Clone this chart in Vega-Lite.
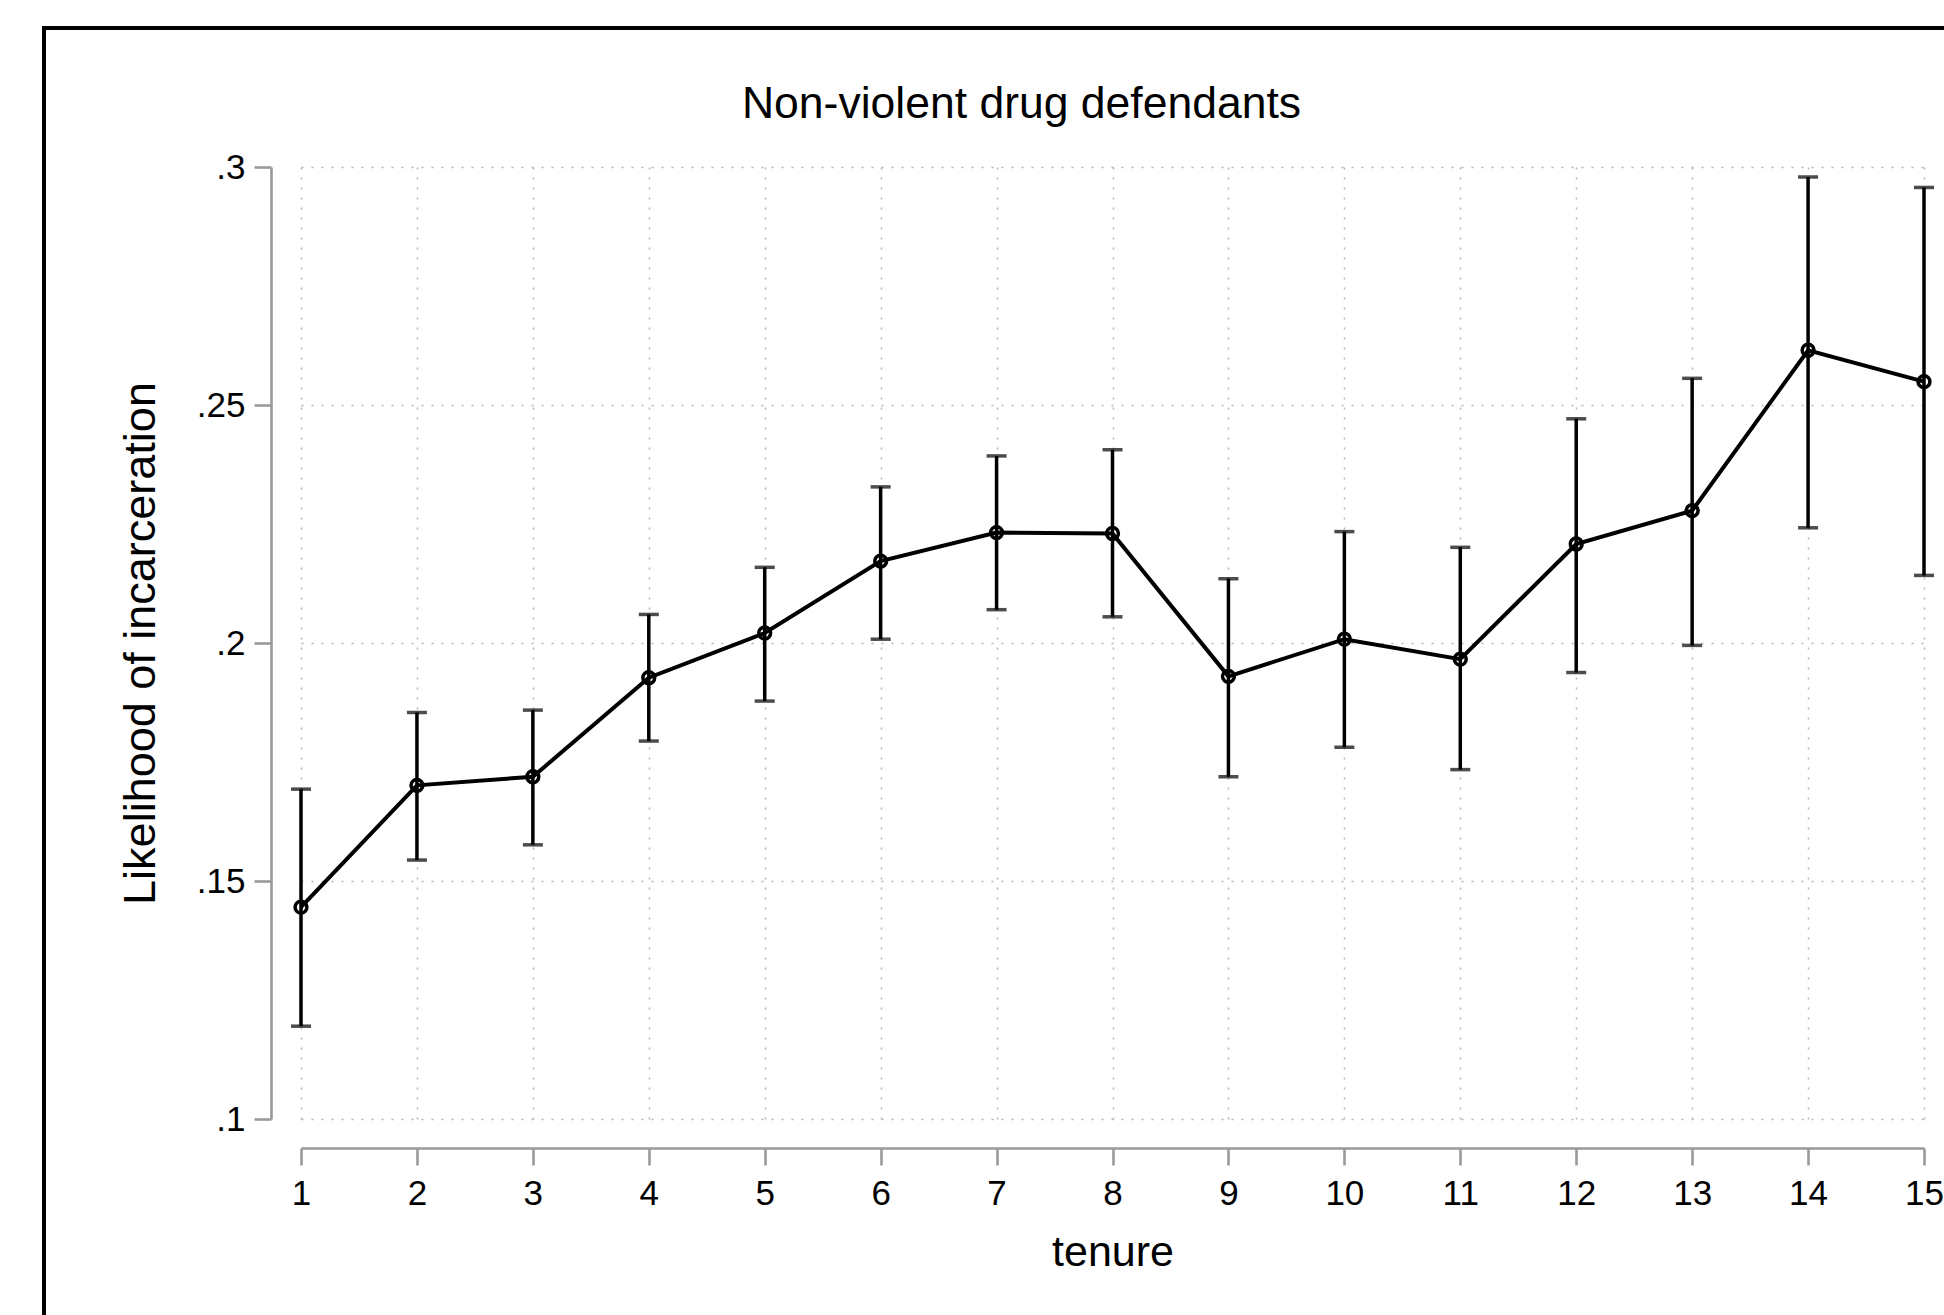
{
  "$schema": "https://vega.github.io/schema/vega-lite/v6.json",
  "width": 1623,
  "height": 952,
  "autosize": {"type": "none"},
  "padding": {"left": 301, "top": 167, "right": 20, "bottom": 196},
  "background": "white",
  "title": {
    "text": "Non-violent drug defendants",
    "font": "Liberation Sans",
    "fontSize": 44.5,
    "fontWeight": "normal",
    "color": "black",
    "anchor": "middle",
    "dx": -91,
    "baseline": "alphabetic",
    "offset": -136
  },
  "data": {
    "values": [
      {"tenure": 1, "est": 0.1445, "lo": 0.1195, "hi": 0.1693},
      {"tenure": 2, "est": 0.1701, "lo": 0.1544, "hi": 0.1854},
      {"tenure": 3, "est": 0.1719, "lo": 0.1576, "hi": 0.1859},
      {"tenure": 4, "est": 0.1927, "lo": 0.1794, "hi": 0.2060},
      {"tenure": 5, "est": 0.2021, "lo": 0.1878, "hi": 0.2159},
      {"tenure": 6, "est": 0.2172, "lo": 0.2008, "hi": 0.2328},
      {"tenure": 7, "est": 0.2232, "lo": 0.2070, "hi": 0.2393},
      {"tenure": 8, "est": 0.2230, "lo": 0.2055, "hi": 0.2406},
      {"tenure": 9, "est": 0.1930, "lo": 0.1719, "hi": 0.2135},
      {"tenure": 10, "est": 0.2008, "lo": 0.1781, "hi": 0.2234},
      {"tenure": 11, "est": 0.1966, "lo": 0.1734, "hi": 0.2201},
      {"tenure": 12, "est": 0.2208, "lo": 0.1938, "hi": 0.2471},
      {"tenure": 13, "est": 0.2278, "lo": 0.1995, "hi": 0.2556},
      {"tenure": 14, "est": 0.2615, "lo": 0.2242, "hi": 0.2979},
      {"tenure": 15, "est": 0.2549, "lo": 0.2142, "hi": 0.2957}
    ]
  },
  "encoding": {
    "x": {
      "field": "tenure",
      "type": "quantitative",
      "scale": {"domain": [1, 15], "nice": false, "zero": false},
      "axis": {
        "title": "tenure",
        "values": [1, 2, 3, 4, 5, 6, 7, 8, 9, 10, 11, 12, 13, 14, 15],
        "format": "d",
        "offset": 29,
        "labelFlush": false,
        "labelOverlap": false,
        "labelPadding": 11,
        "titlePadding": 20
      }
    }
  },
  "layer": [
    {
      "mark": {"type": "rect", "fill": null, "stroke": "black", "strokeWidth": 3, "clip": false},
      "encoding": {
        "x": {"datum": -1.217, "type": "quantitative"},
        "x2": {"datum": 20},
        "y": {"datum": 0.3292, "type": "quantitative"},
        "y2": {"datum": 0.0}
      }
    },
    {
      "mark": {"type": "rule", "color": "black", "strokeWidth": 3.5},
      "encoding": {
        "y": {
          "field": "lo",
          "type": "quantitative",
          "scale": {"domain": [0.1, 0.3], "nice": false, "zero": false},
          "axis": {
            "title": "Likelihood of incarceration",
            "values": [0.1, 0.15, 0.2, 0.25, 0.3],
            "labelExpr": "substring(format(datum.value, '.2~f'), 1)",
            "offset": 30,
            "labelPadding": 9,
            "titlePadding": 33,
            "titleFontSize": 45
          }
        },
        "y2": {"field": "hi"}
      }
    },
    {
      "mark": {"type": "tick", "orient": "horizontal", "color": "black", "size": 20, "thickness": 3.5},
      "encoding": {"y": {"field": "lo", "type": "quantitative"}}
    },
    {
      "mark": {"type": "tick", "orient": "horizontal", "color": "black", "size": 20, "thickness": 3.5},
      "encoding": {"y": {"field": "hi", "type": "quantitative"}}
    },
    {
      "mark": {"type": "line", "color": "black", "strokeWidth": 4},
      "encoding": {"y": {"field": "est", "type": "quantitative"}}
    },
    {
      "mark": {"type": "point", "shape": "circle", "filled": false, "stroke": "black", "strokeWidth": 3.5, "size": 140, "opacity": 1},
      "encoding": {"y": {"field": "est", "type": "quantitative"}}
    }
  ],
  "config": {
    "font": "Liberation Sans",
    "view": {"stroke": null},
    "axis": {
      "domainColor": "#9a9a9a",
      "domainWidth": 2.6,
      "tickColor": "#9a9a9a",
      "tickWidth": 2.6,
      "tickSize": 17,
      "labelFont": "Liberation Sans",
      "labelFontSize": 35,
      "labelColor": "black",
      "titleFont": "Liberation Sans",
      "titleFontSize": 43,
      "titleFontWeight": "normal",
      "titleColor": "black",
      "grid": true,
      "gridColor": "#b5b5b5",
      "gridWidth": 1.5,
      "gridDash": [2, 8]
    }
  }
}
